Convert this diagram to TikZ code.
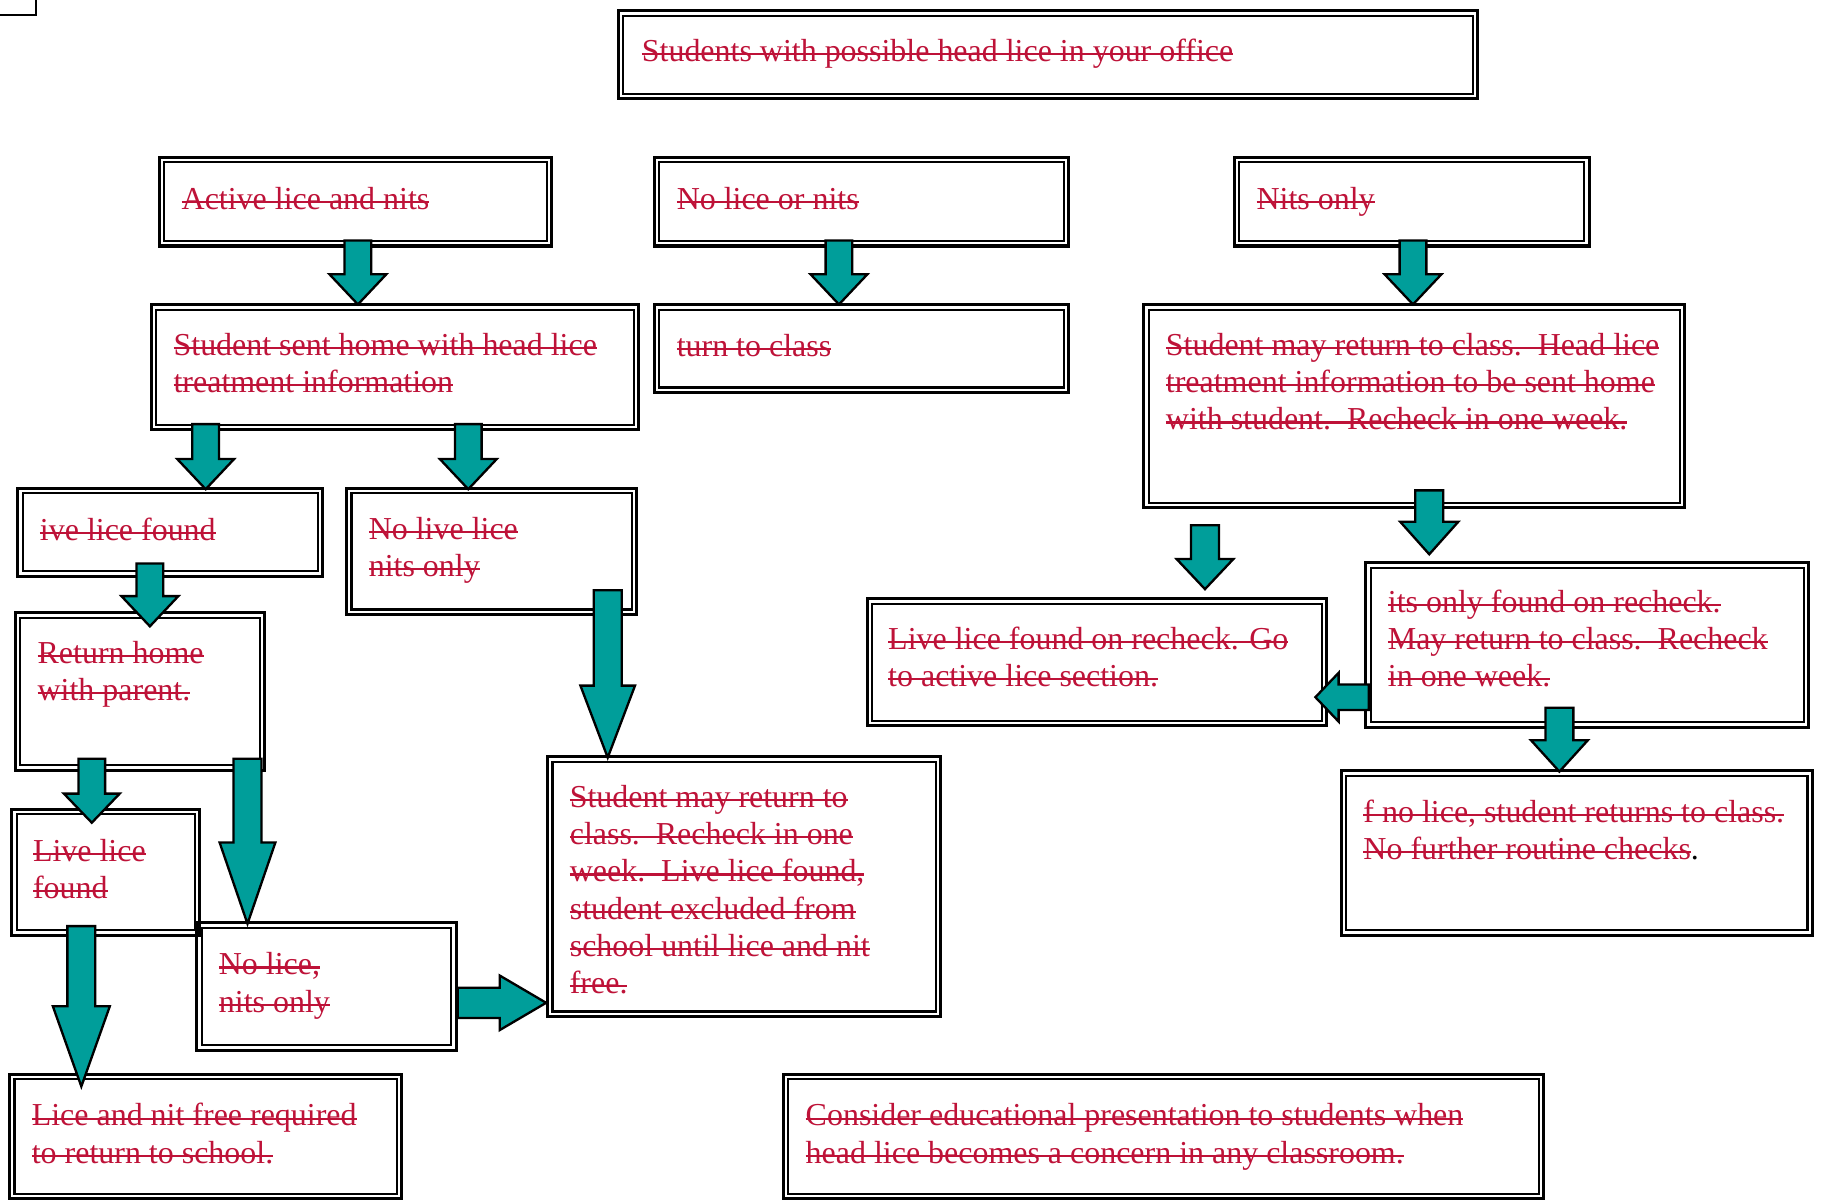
\documentclass[tikz,border=0pt]{standalone}
\usepackage{fontspec}
\setmainfont{Liberation Serif}
\definecolor{txtred}{RGB}{190,18,56}
\definecolor{arrteal}{RGB}{0,158,154}
\newsavebox\strkbox
\newcommand{\strk}[1]{\sbox\strkbox{#1}\rlap{\usebox\strkbox}\raisebox{0.2em}{\rule{\wd\strkbox}{0.9pt}}}
\newcommand{\mlines}[1]{\begin{tabular}[t]{@{}l@{}}#1\end{tabular}}
\tikzset{
  outerframe/.style={draw=black, line width=1.3pt, inner sep=0pt, outer sep=0pt, anchor=north west},
  innerframe/.style={draw=black, line width=0.9pt},
  txt/.style={anchor=base west, inner sep=0pt, text=txtred, font=\fontsize{13.75}{16}\selectfont},
  blockarrow/.style={fill=arrteal, draw=black, line width=1pt, line join=miter},
}
% double framed box: name, x1, y1, x2, y2 (outer edges, pixel units, y downward)
\newcommand{\dbox}[5]{%
  \pgfmathsetmacro{\bw}{(#4-#2-2.6)*0.5}%
  \pgfmathsetmacro{\bh}{(#5-#3-2.6)*0.5}%
  \node[outerframe, minimum width=\bw pt, minimum height=\bh pt] (#1) at (#2+1.3,#3+1.3) {};
  \draw[innerframe] ([shift={(2.1pt,-2.1pt)}]#1.north west) rectangle ([shift={(-2.1pt,2.1pt)}]#1.south east);
}
% vertical block arrow: cx, top, head base y, tip y, shaft half, head half
\newcommand{\varrow}[6]{%
  \filldraw[blockarrow] (#1-#5,#2) -- (#1+#5,#2) -- (#1+#5,#3) -- (#1+#6,#3) -- (#1,#4) -- (#1-#6,#3) -- (#1-#5,#3) -- cycle;
}
% horizontal block arrow: cy, tail x, head base x, tip x, shaft half, head half
\newcommand{\harrow}[6]{%
  \filldraw[blockarrow] (#2,#1-#5) -- (#3,#1-#5) -- (#3,#1-#6) -- (#4,#1) -- (#3,#1+#6) -- (#3,#1+#5) -- (#2,#1+#5) -- cycle;
}
\begin{document}
\begin{tikzpicture}[x=0.5pt,y=-0.5pt]
\useasboundingbox (0,0) rectangle (1568,1034);
\fill[white] (0,0) rectangle (1568,1034);

% corner mark
\draw[line width=1pt] (0,13) -- (31,13) -- (31,0);

% boxes
\dbox{top}{531}{8}{1273}{86}
\dbox{act}{136}{134}{476}{213}
\dbox{nolice}{562}{134}{921}{213}
\dbox{nits}{1061}{134}{1369}{213}
\dbox{sent}{129}{261}{551}{371}
\dbox{turn}{562}{261}{921}{339}
\dbox{mayret}{983}{261}{1451}{438}
\dbox{ive}{14}{419}{279}{497}
\dbox{nolive}{297}{419}{549}{530}
\dbox{rethome}{12}{526}{229}{664}
\dbox{liverc}{745}{514}{1143}{626}
\dbox{itsonly}{1174}{483}{1558}{627}
\dbox{livefound}{9}{695}{173}{806}
\dbox{mayret2}{470}{650}{811}{876}
\dbox{fnolice}{1153}{662}{1561}{806}
\dbox{nolicenits}{168}{793}{394}{905}
\dbox{licefree}{7}{923}{347}{1033}
\dbox{consider}{673}{923}{1330}{1033}

% texts
\node[txt] (ttop) at (552,53) {\mlines{\strk{Students with possible head lice in your office}}};
\node[txt] (tact) at (156,180) {\mlines{\strk{Active lice and nits}}};
\node[txt] (tnolice) at (582,180) {\mlines{\strk{No lice or nits}}};
\node[txt] (tnits) at (1081,180) {\mlines{\strk{Nits only}}};
\node[txt] (tsent) at (149,306) {\mlines{\strk{Student sent home with head lice}\\\strk{treatment information}}};
\node[txt] (tturn) at (582,307) {\mlines{\strk{turn to class}}};
\node[txt] (tmayret) at (1003,306) {\mlines{\strk{Student may return to class.\ \ Head lice}\\\strk{treatment information to be sent home}\\\strk{with student.\ \ Recheck in one week.}}};
\node[txt] (tive) at (34,465) {\mlines{\strk{ive lice found}}};
\node[txt] (tnolive) at (317,464) {\mlines{\strk{No live lice}\\\strk{nits only}}};
\node[txt] (trethome) at (32,571) {\mlines{\strk{Return home}\\\strk{with parent.}}};
\node[txt] (tliverc) at (764,559) {\mlines{\strk{Live lice found on recheck. Go}\\\strk{to active lice section.}}};
\node[txt] (titsonly) at (1194,527) {\mlines{\strk{its only found on recheck.}\\\strk{May return to class.\ \ Recheck}\\\strk{in one week.}}};
\node[txt] (tlivefound) at (28,741) {\mlines{\strk{Live lice}\\\strk{found}}};
\node[txt] (tmayret2) at (490,695) {\mlines{\strk{Student may return to}\\\strk{class.\ \ Recheck in one}\\\strk{week.\ \ Live lice found,}\\\strk{student excluded from}\\\strk{school until lice and nit}\\\strk{free.}}};
\node[txt] (tfnolice) at (1173,708) {\mlines{\strk{f no lice, student returns to class.}\\\strk{No further routine checks}{\color{black}.}}};
\node[txt] (tnolicenits) at (188,839) {\mlines{\strk{No lice,}\\\strk{nits only}}};
\node[txt] (tlicefree) at (27,969) {\mlines{\strk{Lice and nit free required}\\\strk{to return to school.}}};
\node[txt] (tconsider) at (693,969) {\mlines{\strk{Consider educational presentation to students when}\\\strk{head lice becomes a concern in any classroom.}}};

% block arrows
\varrow{308}{207}{236}{262}{11.5}{24.5}
\varrow{722}{207}{236}{262}{11.5}{24.5}
\varrow{1216}{207}{236}{262}{11.5}{24.5}
\varrow{177}{365}{395}{421}{11.5}{24.5}
\varrow{403}{365}{395}{421}{11.5}{24.5}
\varrow{129}{485}{513}{539}{11.5}{24.5}
\varrow{523}{508}{590}{652}{12}{23.5}
\varrow{79}{653}{683}{708}{11.5}{24}
\varrow{213}{653}{725}{795}{12}{24}
\varrow{70}{797}{866}{935}{12}{24.5}
\varrow{1037}{452}{481}{507}{12}{24.5}
\varrow{1230}{422}{449}{477}{12}{25}
\varrow{1342}{609}{637}{664}{12}{24.5}
\harrow{863}{394}{430}{470}{13}{23.5}
\harrow{600}{1178}{1152}{1132}{11}{21}
\end{tikzpicture}
\end{document}
